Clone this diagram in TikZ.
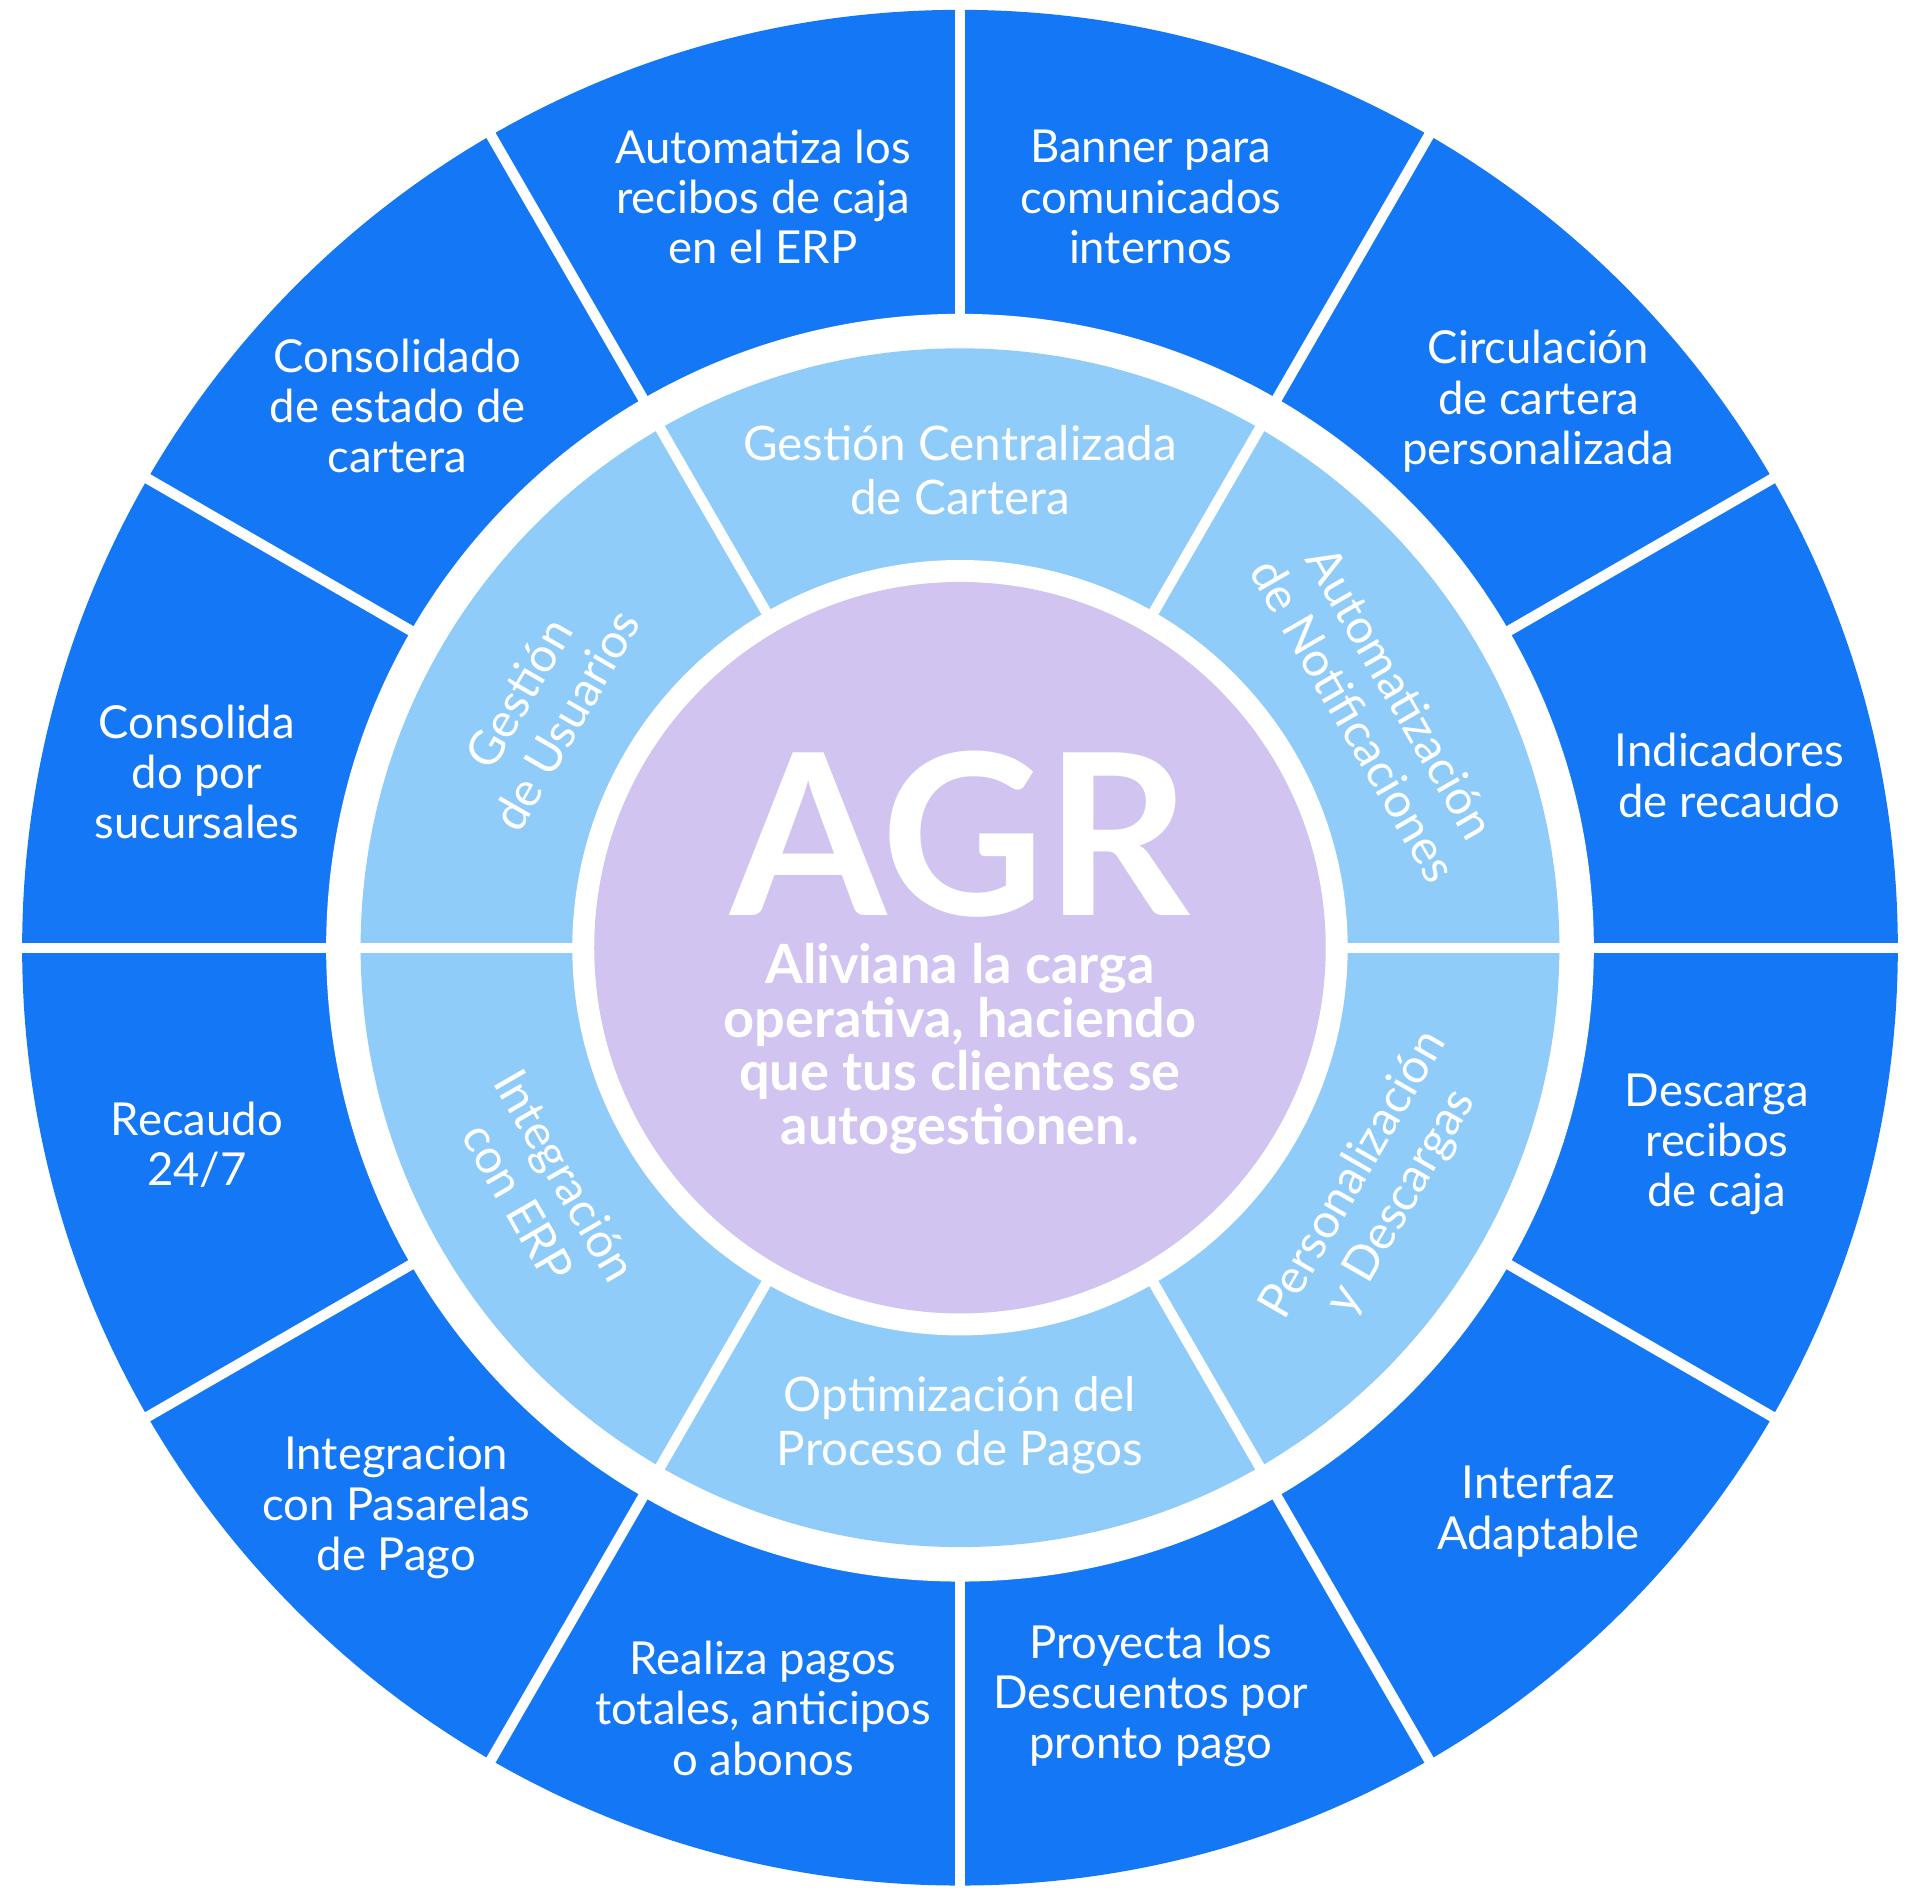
\documentclass[tikz,border=0pt]{standalone}
\usepackage{fontspec}
\setmainfont{Lato}
\definecolor{agrblue}{HTML}{1478F6}
\definecolor{agrlight}{HTML}{8FCCFA}
\definecolor{agrpurple}{HTML}{D1C4F1}
\begin{document}
\begin{tikzpicture}[x=0.01cm,y=0.01cm,
    outer text/.style={text=white,align=center,font=\fontsize{10.5}{11.6}\selectfont},
    mid text/.style={text=white,align=center,font=\fontsize{11}{12.6}\selectfont},
    sep/.style={white,line width=2.4pt}]
    \useasboundingbox (-780,-765) rectangle (780,770);

    \fill[agrblue] (0,0) circle (762);
    \fill[white] (0,0) circle (515);
    \fill[agrlight] (0,0) circle (487);
    \fill[white] (0,0) circle (315);
    \node[circle,fill=agrpurple,minimum size=5.94cm,inner sep=0] (core) at (0,0) {};

    \foreach \a in {0,30,...,330}
        \draw[sep] (\a:505) -- (\a:775);
    \foreach \a in {0,60,...,300}
        \draw[sep] (\a:300) -- (\a:490);

    % center
    \node[text=white,font=\bfseries\fontsize{52}{52}\selectfont] (agr) at (0,92) {AGR};
    \node[text=white,align=center,font=\bfseries\fontsize{12.5}{12.4}\selectfont] (claim) at (0,-82)
        {Aliviana la carga\\operativa, haciendo\\que tus clientes se\\autogestionen.};

    % middle ring
    \node[mid text] (m1) at (90:388) {Gestión Centralizada\\de Cartera};
    \node[mid text,rotate=-60] (m2) at (30:392) {Automatización\\de Notificaciones};
    \node[mid text,rotate=60] (m3) at (150:392) {Gestión\\de Usuarios};
    \node[mid text,rotate=-60] (m4) at (210:392) {Integración\\con ERP};
    \node[mid text] (m5) at (270:388) {Optimización del\\Proceso de Pagos};
    \node[mid text,rotate=60] (m6) at (330:392) {Personalización\\y Descargas};

    % outer ring
    \node[outer text] (o1) at (-160,610) {Automatiza los\\recibos de caja\\en el ERP};
    \node[outer text] (o2) at (155,610) {Banner para\\comunicados\\internos};
    \node[outer text] (o3) at (470,444) {Circulación\\de cartera\\personalizada};
    \node[outer text] (o4) at (625,140) {Indicadores\\de recaudo};
    \node[outer text] (o5) at (615,-160) {Descarga\\recibos\\de caja};
    \node[outer text] (o6) at (470,-458) {Interfaz\\Adaptable};
    \node[outer text] (o7) at (155,-608) {Proyecta los\\Descuentos por\\pronto pago};
    \node[outer text] (o8) at (-160,-618) {Realiza pagos\\totales, anticipos\\o abonos};
    \node[outer text] (o9) at (-458,-455) {Integracion\\con Pasarelas\\de Pago};
    \node[outer text] (o10) at (-620,-160) {Recaudo\\24/7};
    \node[outer text] (o11) at (-620,143) {Consolida\\do por\\sucursales};
    \node[outer text] (o12) at (-457,440) {Consolidado\\de estado de\\cartera};
\end{tikzpicture}
\end{document}
